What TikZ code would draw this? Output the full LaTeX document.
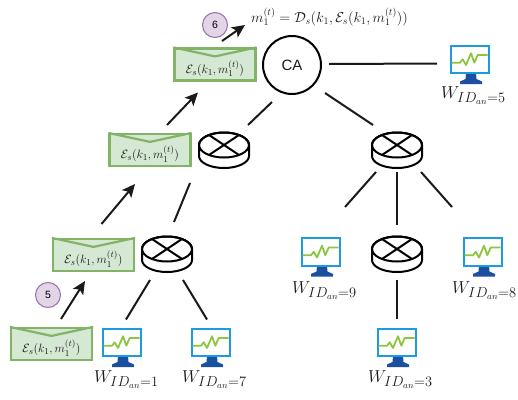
\documentclass[tikz,border=0pt]{standalone}
\usepackage{fontspec}
\newfontfamily\hv{Liberation Sans}
\usetikzlibrary{calc,arrows.meta}
\definecolor{envF}{HTML}{D5E8D4}
\definecolor{envS}{HTML}{82B366}
\definecolor{numF}{HTML}{E1D5E7}
\definecolor{numS}{HTML}{9673A6}
\definecolor{monB}{HTML}{1E9BE0}
\definecolor{monD}{HTML}{1B50A0}
\definecolor{monG}{HTML}{8CC63F}
\definecolor{txt}{HTML}{1A1A1A}
\tikzset{x=1pt,y=-1pt,
 link/.style={line width=2pt,draw=txt},
 arrowlink/.style={line width=2pt,draw=txt,-{Stealth[length=13pt,width=12pt,inset=3pt]}},
 evbox/.style={draw=envS,fill=envF,line width=2.2pt,minimum width=81pt,minimum height=32pt,inner sep=0pt},
 rtbox/.style={minimum width=50pt,minimum height=35pt,inner sep=0pt},
 mnbox/.style={minimum width=40pt,minimum height=39pt,inner sep=0pt},
 numcirc/.style={circle,draw=numS,fill=numF,line width=1pt,minimum size=25pt,inner sep=0pt,font=\hv\fontsize{10.5}{12}\selectfont},
 wlabel/.style={inner sep=0pt,font=\fontsize{19}{21}\selectfont,text=txt},
}
\newcommand\envnode[3]{%
 \node[evbox] (#1) at (#2,#3) {};
 \draw[envS,line width=2.2pt,line join=round] (#1.north west) -- ($(#1.north)+(0,9)$) -- (#1.north east);
 \node[inner sep=0pt,font=\fontsize{12.8}{14}\selectfont,text=txt] (#1t) at (#2,#3+4) {$\mathcal{E}_s(k_1,m_1^{(t)})$};
}
\newcommand\routernode[3]{%
 \node[rtbox] (#1) at (#2,#3) {};
 \begin{scope}[shift={(#2,#3)},line width=2pt,black]
  \draw[fill=white] (-25,6) -- (-25,-5) arc[x radius=25,y radius=12.5,start angle=180,end angle=360] -- (25,6) arc[x radius=25,y radius=12,start angle=0,end angle=180] -- cycle;
  \draw (0,-5) ellipse[x radius=25,y radius=12.5];
  \draw (-15,-15) -- (15,5) (15,-15) -- (-15,5);
 \end{scope}
}
\newcommand\monnode[3]{%
 \node[mnbox] (#1) at (#2,#3) {};
 \begin{scope}[shift={(#2,#3)}]
  \fill[monD] (-4,8.5) -- (6,8.5) -- (6.5,14.5) -- (12,17) -- (12,19.5) -- (-10,19.5) -- (-10,17) -- (-4.5,14.5) -- cycle;
  \draw[monB,line width=2pt,fill=white] (-19,-19) rectangle (19,8.5);
  \draw[monG,line width=1.8pt,line join=round] (-18.3,-1.8) -- (-10,-1.8) -- (-7.3,-5.2) -- (-4,0.5) -- (1,-11.2) -- (4.3,-1.8) -- (7.7,-9.5) -- (17.7,-9.5);
 \end{scope}
}
\begin{document}
\begin{tikzpicture}
\useasboundingbox (0,0) rectangle (518,399);
\envnode{e1}{51.5}{344}
\envnode{e2}{93.5}{255}
\envnode{e3}{150}{150}
\envnode{e4}{215}{64.5}
\routernode{ra}{167}{254}
\routernode{rb}{224}{150}
\routernode{rc}{397}{150}
\routernode{rd}{397}{254}
\monnode{m1}{122}{347.5}
\monnode{m7}{211}{347.5}
\monnode{m5}{470}{64.5}
\monnode{m9}{321}{257}
\monnode{m3}{397}{347.5}
\monnode{m8}{483}{257}
\node[circle,draw=black,line width=2pt,minimum size=58pt,inner sep=0pt,font=\hv\fontsize{15}{18}\selectfont,text=txt] (ca) at (292,65) {CA};
\node[numcirc] (n5) at (48,295) {5};
\node[numcirc] (n6) at (215,25) {6};
\node[wlabel,anchor=west] (w1) at (94,380) {$W_{ID_{an}=1}$};
\node[wlabel,anchor=west] (w7) at (182,380) {$W_{ID_{an}=7}$};
\node[wlabel,anchor=west] (w5) at (441,96) {$W_{ID_{an}=5}$};
\node[wlabel,anchor=west] (w9) at (292,291) {$W_{ID_{an}=9}$};
\node[wlabel,anchor=west] (w3) at (368,380) {$W_{ID_{an}=3}$};
\node[wlabel,anchor=west] (w8) at (452,291) {$W_{ID_{an}=8}$};
\node[inner sep=0pt,anchor=west,font=\fontsize{14}{16}\selectfont,text=txt] (eq) at (251,17) {$m_1^{(t)}=\mathcal{D}_s(k_1,\mathcal{E}_s(k_1,m_1^{(t)}))$};
% connectors
\draw[link] ($(ca)+(-20,37)$) -- ($(rb)+(24,-25)$);
\draw[link] ($(ca)+(33,28)$) -- ($(rc)+(-24,-25)$);
\draw[link] ($(ca)+(37,-1)$) -- ($(m5)+(-33,-1)$);
\draw[link] ($(rb)+(-34,33)$) -- ($(ra)+(7,-32)$);
\draw[link] ($(ra)+(-17,26)$) -- ($(m1)+(4,-28)$);
\draw[link] ($(ra)+(16,26)$) -- ($(m7)+(-4,-28)$);
\draw[link] ($(rc)+(-21,22)$) -- ($(m9)+(24,-50)$);
\draw[link] ($(rc)+(0,22)$) -- ($(rd)+(0,-29)$);
\draw[link] ($(rc)+(24,22)$) -- ($(m8)+(-31,-50)$);
\draw[link] ($(rd)+(0,26)$) -- ($(m3)+(0,-29)$);
\draw[arrowlink] ($(e1)+(9.5,-25)$) -- ($(e2)+(-8.5,26)$);
\draw[arrowlink] ($(e2)+(8,-31)$) -- ($(e3)+(-15,34)$);
\draw[arrowlink] ($(e3)+(17,-25)$) -- ($(e4)+(-17,28)$);
\draw[arrowlink] ($(e4)+(7,-23.5)$) -- ($(eq.west)+(-6,8)$);
\end{tikzpicture}
\end{document}
